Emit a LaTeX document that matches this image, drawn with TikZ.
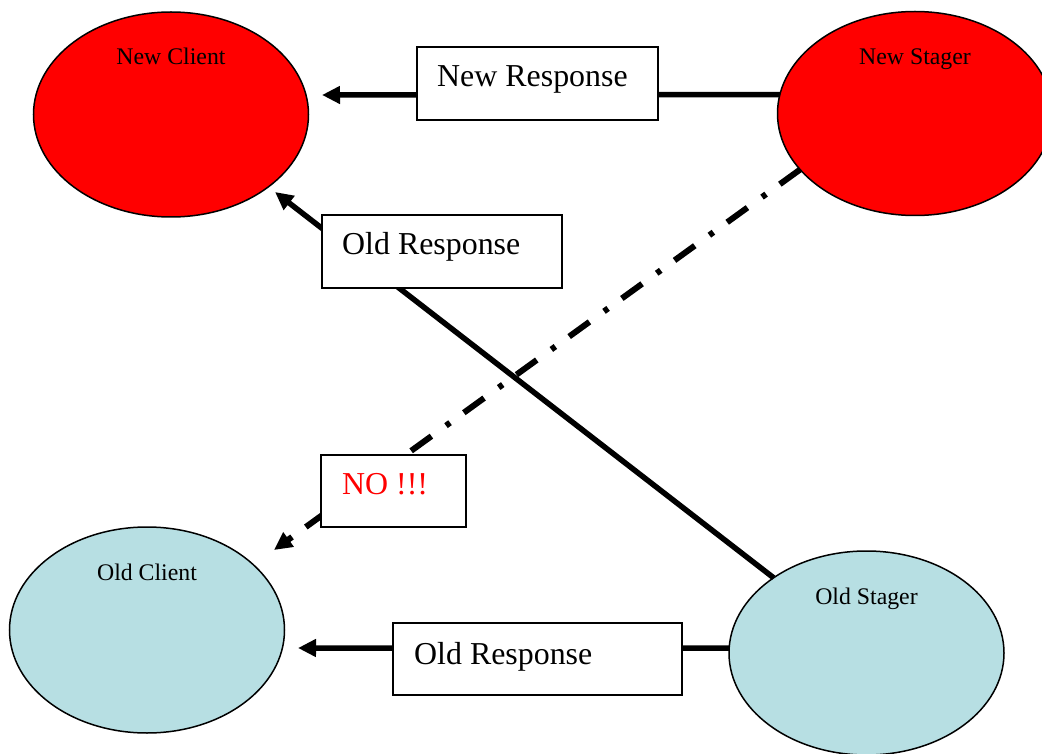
\documentclass[tikz,border=0pt]{standalone}
\usepackage{fontspec}
\setmainfont{Liberation Serif}
\usetikzlibrary{shapes.geometric,arrows.meta,calc}
\definecolor{newred}{HTML}{FF0000}
\definecolor{oldblue}{HTML}{B7DFE3}
\begin{document}
\begin{tikzpicture}[x=1pt,y=-1pt,
 blob/.style={ellipse, draw=black, line width=1.5pt, inner sep=0pt, outer sep=0pt, minimum width=275pt},
 blobtext/.style={anchor=base, inner sep=0pt, font=\fontsize{23.8}{28}\selectfont},
 msgbox/.style={rectangle, draw=black, fill=white, line width=2pt, inner sep=0pt, minimum height=72pt},
 msgtext/.style={anchor=base west, inner sep=0pt, font=\fontsize{31.9}{38}\selectfont},
 conn/.style={line width=5.5pt, -{Triangle[length=18pt,width=17pt]}},
 dashdot/.style={line width=6pt, dash pattern=on 25pt off 17pt on 5pt off 18pt, -{Triangle[length=18pt,width=17pt]}}]
\clip (0,0) rectangle (1042,754);
% ellipses
\node[blob, fill=newred, minimum height=205pt] (nc) at (171,114.5) {};
\node[blob, fill=newred, minimum height=204pt] (ns) at (915,113.5) {};
\node[blob, fill=oldblue, minimum height=206pt] (oc) at (147,630) {};
\node[blob, fill=oldblue, minimum height=204pt] (os) at (866.5,653) {};
\node[blobtext] (nct) at ($(nc.north)+(0,53)$) {New Client};
\node[blobtext] (nst) at ($(ns.north)+(0,53)$) {New Stager};
\node[blobtext] (oct) at ($(oc.north)+(0,53)$) {Old Client};
\node[blobtext] (ost) at ($(os.north)+(0,53)$) {Old Stager};
% arrow end points
\coordinate (tipNR) at (322,95);
\coordinate (tipOR1) at (275,192);
\coordinate (tipNO) at (274,550);
\coordinate (tipOR2) at (298,648);
% connectors
\draw[conn] (ns.172) -- (tipNR);
\draw[conn] (os.141) -- (tipOR1);
\draw[dashdot] (ns.206) -- (tipNO);
\draw[conn] (os.178) -- (tipOR2);
% message boxes
\node[msgbox, minimum width=241pt, minimum height=73pt] (nr) at (537.5,83.5) {};
\node[msgbox, minimum width=240pt, minimum height=73pt] (or1) at (442,251.5) {};
\node[msgbox, minimum width=145pt] (no) at (393.5,491) {};
\node[msgbox, minimum width=289pt] (or2) at (537.5,659) {};
\node[msgtext] (nrt) at ($(nr.north west)+(21,41)$) {New Response};
\node[msgtext] (or1t) at ($(or1.north west)+(21,41)$) {Old Response};
\node[msgtext, text=red] (not) at ($(no.north west)+(22,40)$) {NO !!!};
\node[msgtext] (or2t) at ($(or2.north west)+(22,42)$) {Old Response};
\end{tikzpicture}
\end{document}
